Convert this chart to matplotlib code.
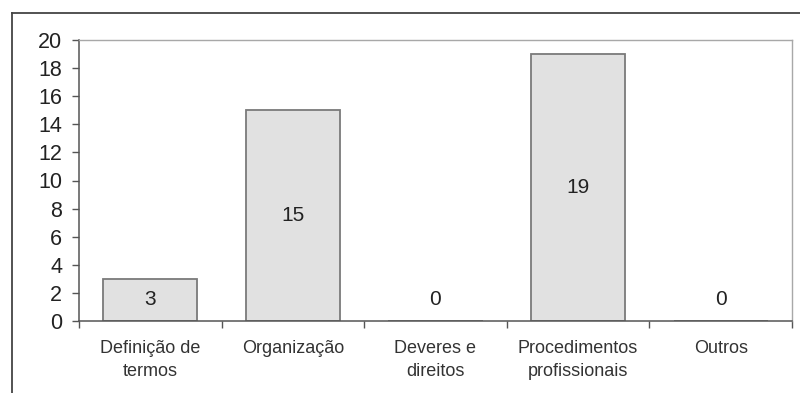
import matplotlib
matplotlib.use("Agg")
import matplotlib.pyplot as plt
from matplotlib.lines import Line2D
import numpy as np

categories = ["Definição de\ntermos", "Organização", "Deveres e\ndireitos",
              "Procedimentos\nprofissionais", "Outros"]
values = [3, 15, 0, 19, 0]
yticks = [0, 2, 4, 6, 8, 10, 12, 14, 16, 18, 20]

plt.rcParams["font.family"] = ["Liberation Sans", "DejaVu Sans"]

W, H = 800, 393
fig = plt.figure(figsize=(W / 100, H / 100), dpi=100)
ax = fig.add_axes([79 / W, 1 - 321 / H, (792 - 79) / W, (321 - 40) / H])

x = np.arange(len(categories))
ax.bar(x, values, width=0.66, color="#e1e1e1", edgecolor="#7a7a7a", linewidth=1.3, zorder=2)

for xi, v in zip(x, values):
    ypos = v / 2 if v > 0 else 1.5
    ax.text(xi, ypos, str(v), ha="center", va="center", fontsize=15, color="#222222")

ax.set_xlim(-0.5, len(categories) - 0.5)
ax.set_ylim(0, 20)
ax.set_yticks(yticks)
ax.set_yticklabels([str(t) for t in yticks], fontsize=15.5, color="#222222")

# category ticks sit on the boundaries; labels are centred below each bar
ax.set_xticks(np.arange(len(categories) + 1) - 0.5)
ax.set_xticklabels([])
ax.tick_params(axis="x", length=5, width=1, color="#555555", direction="out")
ax.tick_params(axis="y", length=5, width=1, color="#555555", direction="out", pad=7)
for xi, lab in zip(x, categories):
    ax.text(xi, -0.066, lab, transform=ax.get_xaxis_transform(), ha="center", va="top",
            fontsize=13, color="#333333", linespacing=1.5)

for side in ["left", "bottom"]:
    ax.spines[side].set_color("#555555")
    ax.spines[side].set_linewidth(1.1)
for side in ["top", "right"]:
    ax.spines[side].set_color("#a8a8a8")
    ax.spines[side].set_linewidth(1.0)

# outer chart frame
fig.add_artist(Line2D([12 / W, 12 / W], [0, 1 - 13 / H], transform=fig.transFigure,
                      color="#444444", linewidth=1.3))
fig.add_artist(Line2D([12 / W, 1], [1 - 13 / H, 1 - 13 / H], transform=fig.transFigure,
                      color="#444444", linewidth=1.3))

fig.savefig("out.png", dpi=100)
